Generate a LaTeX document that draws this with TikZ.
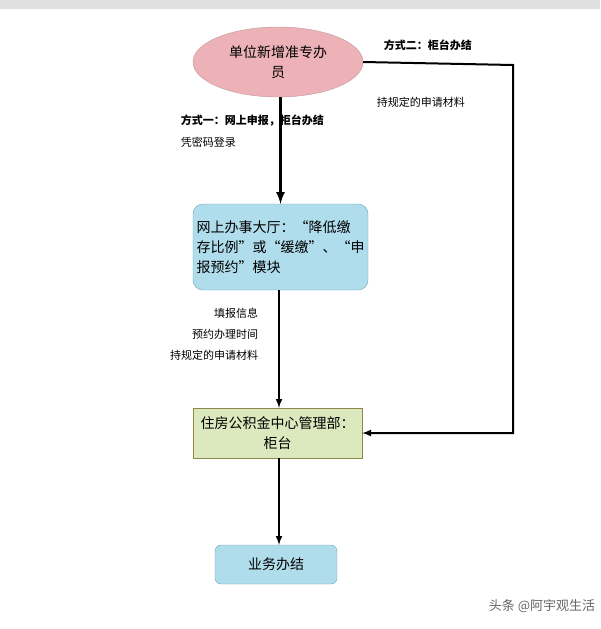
\documentclass[tikz,border=0pt]{standalone}
\usepackage{fontspec}
\setmainfont{Noto Sans CJK SC}
\usepackage{tikz}
\usetikzlibrary{shapes.geometric}

\begin{document}
\begin{tikzpicture}[x=1pt,y=1pt,yscale=-1,xscale=1,
    boxtext/.style={font=\fontsize{14}{20}\selectfont,align=center,inner sep=0pt},
    lbl/.style={font=\fontsize{11}{13}\selectfont,inner sep=0.75pt},
    flow/.style={line width=2pt,-latex}]
        \useasboundingbox (0,0) rectangle (600,629);
        \fill[white] (0,0) rectangle (600,629);
        \fill[black!12] (0,0) rectangle (600,9);

        % Shape: Ellipse
        \node (start) [ellipse,draw=red!40!black!40,fill={rgb,255:red,236;green,178;blue,184},minimum width=170,minimum height=70,boxtext] at (278,62) {单位新增准专办\\员};
        % Shape: Rounded box
        \node (hall) [rectangle,rounded corners=10,draw=cyan!40!gray,fill={rgb,255:red,176;green,221;blue,236},minimum width=175,minimum height=86,boxtext,align=left] at (280.5,247) {网上办事大厅：“降低缴\\存比例”或“缓缴”、“申\\报预约”模块};
        % Shape: Box
        \node (counter) [rectangle,draw=olive!50!gray,fill={rgb,255:red,220;green,232;blue,190},minimum width=169,minimum height=50,boxtext] at (277.5,433) {住房公积金中心管理部：\\柜台};
        % Shape: Rounded box
        \node (done) [rectangle,rounded corners=6,draw=cyan!40!gray,fill={rgb,255:red,176;green,221;blue,236},minimum width=122,minimum height=39,boxtext] at (276,564.5) {业务办结};
        \coordinate (r1) at (513,65);
        \coordinate (r2) at (513,433);

        % Connectors
        \draw [flow,line width=3pt] (start.south -| hall.north) -- (hall.north);
        \draw [flow] (hall.south -| 279,0) -- (counter.north -| 279,0);
        \draw [flow] (counter.south -| 279,0) -- (done.north -| 279,0);
        \draw [flow] (start.east) -- (r1) -- (r2) -- (counter.east);

        % Text Node
        \draw (383,45) node [anchor=west,lbl] {\textbf{方式二：柜台办结}};
        \draw (376,102) node [anchor=west,lbl] {持规定的申请材料};
        \draw (180,121) node [anchor=west,lbl] {\textbf{方式一：网上申报，柜台办结}};
        \draw (180,142) node [anchor=west,lbl] {凭密码登录};
        \draw (259,313) node [anchor=east,lbl] {填报信息};
        \draw (259,334) node [anchor=east,lbl] {预约办理时间};
        \draw (259,355) node [anchor=east,lbl] {持规定的申请材料};
        \draw (596,606) node [anchor=east,lbl,text=black!60,font=\fontsize{13}{15}\selectfont] {头条 @阿宇观生活};
\end{tikzpicture}
\end{document}
